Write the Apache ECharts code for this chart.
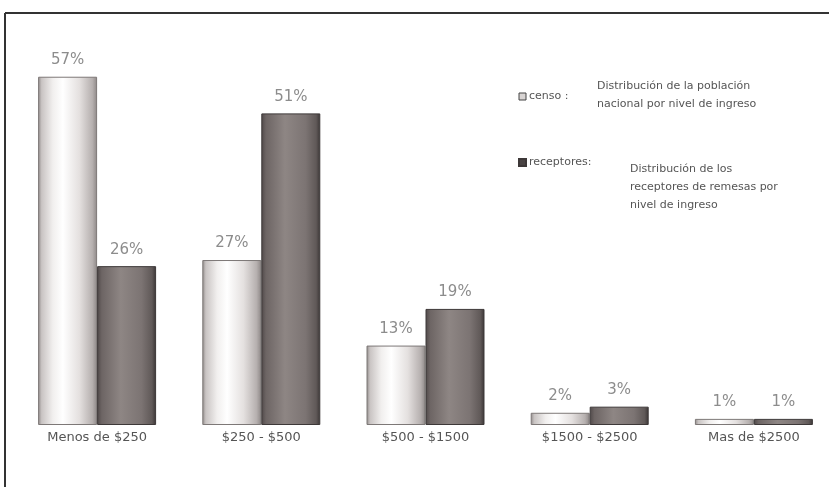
<!DOCTYPE html>
<html>
<head>
<meta charset="utf-8">
<script src="https://cdn.jsdelivr.net/npm/echarts@6/dist/echarts.min.js"></script>
<style>
  html, body { margin: 0; padding: 0; background: #ffffff; }
  #chart { width: 829px; height: 487px; }
</style>
</head>
<body>
<div id="chart"></div>
<script>
// Income brackets (categories along the x axis)
const categories = ['Menos de $250', '$250 - $500', '$500 - $1500', '$1500 - $2500', 'Mas de $2500'];
// Share of the national population per income bracket (%)
const censo = [57, 27, 13, 2, 1];
// Share of remittance recipients per income bracket (%)
const receptores = [26, 51, 19, 3, 1];
// Legend descriptions
const censoDesc = 'Distribución de la población\nnacional por nivel de ingreso';
const receptoresDesc = 'Distribución de los\nreceptores de remesas por\nnivel de ingreso';

const FONT = 'DejaVu Sans';

// Cylinder-like horizontal gradients for the two bar styles
const lightFill = new echarts.graphic.LinearGradient(0, 0, 1, 0, [
  { offset: 0.00, color: '#8f8988' },
  { offset: 0.06, color: '#c9c4c3' },
  { offset: 0.25, color: '#f1efee' },
  { offset: 0.42, color: '#ffffff' },
  { offset: 0.70, color: '#e4e0df' },
  { offset: 0.92, color: '#b6b0af' },
  { offset: 1.00, color: '#8d8786' }
]);
const darkFill = new echarts.graphic.LinearGradient(0, 0, 1, 0, [
  { offset: 0.00, color: '#4f4848' },
  { offset: 0.08, color: '#6d6564' },
  { offset: 0.40, color: '#8e8684' },
  { offset: 0.75, color: '#7c7473' },
  { offset: 0.93, color: '#605958' },
  { offset: 1.00, color: '#3a3535' }
]);

const valueLabel = {
  show: true,
  position: 'top',
  distance: 9,
  formatter: '{c}%',
  fontFamily: FONT,
  fontSize: 15,
  color: '#8c8c8c'
};

const chart = echarts.init(document.getElementById('chart'), null, { renderer: 'canvas' });

chart.setOption({
  backgroundColor: '#ffffff',
  animation: false,
  grid: { left: 15, width: 821, top: 58.4, bottom: 62, containLabel: false, outerBoundsMode: 'none' },
  xAxis: {
    type: 'category',
    data: categories,
    axisLine: { show: false },
    axisTick: { show: false },
    axisLabel: { margin: 6, fontFamily: FONT, fontSize: 13, color: '#555555' }
  },
  yAxis: {
    type: 'value',
    min: 0,
    max: 60,
    show: false,
    splitLine: { show: false }
  },
  legend: {
    orient: 'vertical',
    left: 513,
    top: 86,
    itemGap: 55,
    itemWidth: 7,
    itemHeight: 7,
    icon: 'rect',
    textStyle: { fontFamily: FONT, fontSize: 11, color: '#555555', padding: [0, 0, 0, -2] },
    formatter: function (name) { return name === 'censo' ? 'censo :' : 'receptores:'; },
    data: [
      { name: 'censo', itemStyle: { color: '#d8d4d3', borderColor: '#444', borderWidth: 1 } },
      { name: 'receptores', itemStyle: { color: '#4a4444' } }
    ]
  },
  graphic: [
    // frame lines at the top and left
    { type: 'line', shape: { x1: 5, y1: 13, x2: 829, y2: 13 }, style: { stroke: '#333333', lineWidth: 2 } },
    { type: 'line', shape: { x1: 5, y1: 13, x2: 5, y2: 487 }, style: { stroke: '#333333', lineWidth: 2 } },
    {
      type: 'text', left: 597, top: 77,
      style: { text: censoDesc, fontFamily: FONT, fontSize: 11, lineHeight: 18, fill: '#555555' }
    },
    {
      type: 'text', left: 630, top: 160,
      style: { text: receptoresDesc, fontFamily: FONT, fontSize: 11, lineHeight: 18, fill: '#555555' }
    }
  ],
  series: [
    {
      name: 'censo',
      type: 'bar',
      data: censo,
      barWidth: 59,
      barGap: '0%',
      itemStyle: { color: lightFill, borderColor: '#7d7877', borderWidth: 1 },
      label: valueLabel
    },
    {
      name: 'receptores',
      type: 'bar',
      data: receptores,
      barWidth: 59,
      barGap: '0%',
      itemStyle: { color: darkFill, borderColor: '#3d3838', borderWidth: 1 },
      label: valueLabel
    }
  ]
});
</script>
</body>
</html>
